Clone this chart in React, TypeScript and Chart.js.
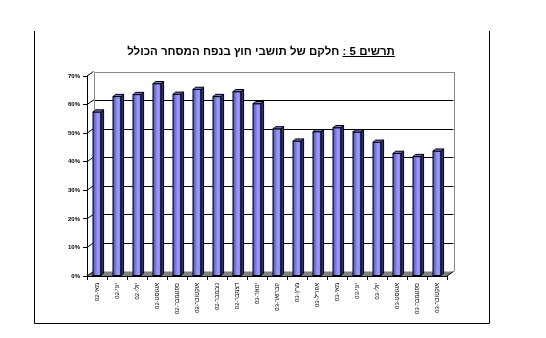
import React, { useEffect, useRef } from "react";
import { Chart, registerables } from "chart.js";

Chart.register(...registerables);

const categories = [
  "מאי-02", "יוני-02", "יולי-02", "אוגוסט-02", "ספטמבר-02", "אוקטובר-02",
  "נובמבר-02", "דצמבר-02", "ינואר-03", "פברואר-03", "מרץ-03", "אפריל-03",
  "מאי-03", "יוני-03", "יולי-03", "אוגוסט-03", "ספטמבר-03", "אוקטובר-03",
];
const shareValues = [
  57.4, 62.8, 63.5, 67.3, 63.6, 65.3, 62.8, 64.5, 60.3,
  51.5, 47.2, 50.5, 51.9, 50.4, 46.8, 42.9, 41.8, 43.7,
];
const yTicks = [0, 10, 20, 30, 40, 50, 60, 70];

const DX = 6.5; // wall depth
const DY = 4.5;
const BDX = 2.6; // bar depth
const BDY = 2.2;

const threeD = {
  id: "threeD",
  beforeDraw(chart: any) {
    const { ctx, chartArea: a, scales } = chart;
    const y = scales.y;
    ctx.save();
    ctx.fillStyle = "#fff";
    ctx.fillRect(0, 0, chart.width, chart.height);
    // outer frame (left, right, bottom)
    ctx.strokeStyle = "#000";
    ctx.lineWidth = 1;
    ctx.beginPath();
    ctx.moveTo(34.5, 31);
    ctx.lineTo(34.5, 323.5);
    ctx.lineTo(489.5, 323.5);
    ctx.lineTo(489.5, 31);
    ctx.stroke();
    // floor
    ctx.fillStyle = "#808080";
    ctx.beginPath();
    ctx.moveTo(a.left, a.bottom);
    ctx.lineTo(a.right, a.bottom);
    ctx.lineTo(a.right + DX, a.bottom - DY);
    ctx.lineTo(a.left + DX, a.bottom - DY);
    ctx.closePath();
    ctx.fill();
    ctx.strokeStyle = "#000";
    ctx.beginPath();
    ctx.moveTo(a.right, a.bottom);
    ctx.lineTo(a.right + DX, a.bottom - DY);
    ctx.stroke();
    // back wall gridlines
    yTicks.forEach((v) => {
      const py = Math.round(y.getPixelForValue(v) - DY) + 0.5;
      if (v > 0 && v < 70) {
        ctx.strokeStyle = "#000";
        ctx.beginPath();
        ctx.moveTo(a.left + DX, py);
        ctx.lineTo(a.right + DX, py);
        ctx.stroke();
      }
      // side wall diagonals
      ctx.strokeStyle = "#000";
      ctx.beginPath();
      ctx.moveTo(a.left, y.getPixelForValue(v));
      ctx.lineTo(a.left + DX, y.getPixelForValue(v) - DY);
      ctx.stroke();
    });
    // back wall frame (gray)
    ctx.strokeStyle = "#888";
    const top = Math.round(y.getPixelForValue(70) - DY) + 0.5;
    ctx.beginPath();
    ctx.moveTo(Math.round(a.left + DX) + 0.5, a.bottom - DY);
    ctx.lineTo(Math.round(a.left + DX) + 0.5, top);
    ctx.lineTo(Math.round(a.right + DX) + 0.5, top);
    ctx.lineTo(Math.round(a.right + DX) + 0.5, a.bottom - DY);
    ctx.stroke();
    ctx.restore();
  },
  afterDatasetsDraw(chart: any) {
    const { ctx } = chart;
    const meta = chart.getDatasetMeta(0);
    ctx.save();
    ctx.lineWidth = 1;
    ctx.strokeStyle = "#000";
    meta.data.forEach((el: any) => {
      const { x, y, base, width } = el.getProps(["x", "y", "base", "width"], true);
      const l = x - width / 2;
      const r = x + width / 2;
      // front face with gradient
      const g = ctx.createLinearGradient(l, 0, r, 0);
      g.addColorStop(0, "#5050b8");
      g.addColorStop(0.6, "#9c9cfc");
      g.addColorStop(1, "#8080e8");
      ctx.fillStyle = g;
      ctx.fillRect(l, y, width, base - y);
      ctx.strokeRect(l, y, width, base - y);
      // side face
      ctx.fillStyle = "#30308a";
      ctx.beginPath();
      ctx.moveTo(r, y);
      ctx.lineTo(r + BDX, y - BDY);
      ctx.lineTo(r + BDX, base - BDY);
      ctx.lineTo(r, base);
      ctx.closePath();
      ctx.fill();
      ctx.stroke();
      // top face
      ctx.fillStyle = "#7474d8";
      ctx.beginPath();
      ctx.moveTo(l, y);
      ctx.lineTo(l + BDX, y - BDY);
      ctx.lineTo(r + BDX, y - BDY);
      ctx.lineTo(r, y);
      ctx.closePath();
      ctx.fill();
      ctx.stroke();
    });
    ctx.restore();
  },
};

export default function App() {
  const ref = useRef<HTMLCanvasElement>(null);
  useEffect(() => {
    if (!ref.current) return;
    const chart = new Chart(ref.current, {
      type: "bar",
      data: {
        labels: categories,
        datasets: [
          {
            data: shareValues,
            backgroundColor: "#8080e8",
            borderColor: "#000",
            borderWidth: 1,
            barPercentage: 0.4,
            categoryPercentage: 1,
          },
        ],
      },
      options: {
        responsive: false,
        animation: false,
        devicePixelRatio: 1,
        layout: { padding: { top: 76, right: 99, bottom: 0, left: 0 } },
        plugins: { legend: { display: false }, tooltip: { enabled: false }, title: { display: false } },
        scales: {
          x: {
            grid: { display: true, drawOnChartArea: false, drawTicks: true, tickLength: 4, color: "#000", offset: true },
            border: { display: true, color: "#000" },
            ticks: {
              color: "#000",
              font: { family: "Liberation Sans, Arial", size: 6 },
              minRotation: 90,
              maxRotation: 90,
              autoSkip: false,
              padding: 3,
            },
            afterFit: (s: any) => { s.height = 62; },
          },
          y: {
            min: 0,
            max: 70,
            grid: { display: true, drawOnChartArea: false, drawTicks: true, tickLength: 4, color: "#000" },
            border: { display: true, color: "#000" },
            ticks: {
              stepSize: 10,
              color: "#000",
              font: { family: "Liberation Sans, Arial", size: 6, weight: "bold" },
              callback: (v: any) => v + "%",
              padding: 3,
            },
            afterFit: (s: any) => { s.width = 87; },
          },
        },
      },
      plugins: [threeD],
    });
    return () => chart.destroy();
  }, []);
  return (
    <div style={{ position: "fixed", left: 0, top: 0, width: 546, height: 338, background: "#fff" }}>
      <canvas ref={ref} width={546} height={338} style={{ position: "absolute", left: 0, top: 0 }} />
      <div
        dir="rtl"
        style={{
          position: "absolute",
          left: 0,
          width: 522,
          top: 45,
          textAlign: "center",
          fontFamily: "'Liberation Sans', Arial, sans-serif",
          fontWeight: "bold",
          fontSize: 11.5,
          color: "#000",
          whiteSpace: "nowrap",
        }}
      >
        <span style={{ textDecoration: "underline" }}>תרשים 5 :</span> חלקם של תושבי חוץ בנפח המסחר הכולל
      </div>
    </div>
  );
}
